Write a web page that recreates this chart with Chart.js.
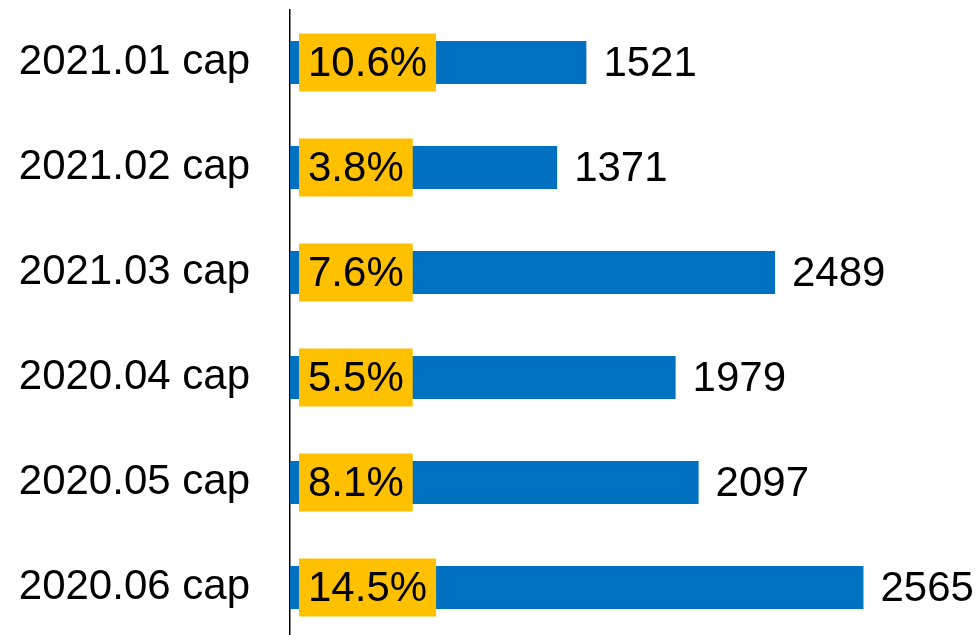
<!DOCTYPE html>
<html>
<head>
<meta charset="utf-8">
<script src="https://cdn.jsdelivr.net/npm/chart.js@4.4.1/dist/chart.umd.min.js"></script>
<style>
  html, body { margin: 0; padding: 0; background: #fff; overflow: hidden; }
  #wrap { width: 980px; height: 640px; }
</style>
</head>
<body>
<div id="wrap"><canvas id="chart"></canvas></div>
<script>
// ── Datos ─────────────────────────────────────────────
var categories = ['2021.01 cap', '2021.02 cap', '2021.03 cap', '2020.04 cap', '2020.05 cap', '2020.06 cap'];
var valueLabels = [1521, 1371, 2489, 1979, 2097, 2565];
var pctLabels = ['10.6%', '3.8%', '7.6%', '5.5%', '8.1%', '14.5%'];
// bar lengths as drawn in the picture (last bar is longer than its label says)
var barValues = [1521, 1371, 2489, 1979, 2097, 2943];

var BLUE = '#0070C0';
var GOLD = '#FFC000';
var FONT = "'Liberation Sans', Arial, sans-serif";

// labels: yellow box with % at the bar start, value after the bar end
var barLabels = {
    id: 'barLabels',
    afterDatasetsDraw: function (chart) {
        var ctx = chart.ctx;
        var meta = chart.getDatasetMeta(0);
        ctx.save();
        ctx.font = '42px ' + FONT;
        ctx.textBaseline = 'middle';
        meta.data.forEach(function (bar, i) {
            var pct = pctLabels[i];
            var w = ctx.measureText(pct).width;
            var bx = bar.base + 9;
            var bh = 58;
            ctx.fillStyle = GOLD;
            ctx.fillRect(bx, bar.y - bh / 2, w + 18, bh);
            ctx.fillStyle = '#000';
            ctx.textAlign = 'left';
            ctx.fillText(pct, bx + 9, bar.y + 2);
            ctx.fillText(String(valueLabels[i]), bar.x + 17, bar.y + 2);
        });
        ctx.restore();
    }
};

new Chart(document.getElementById('chart'), {
    type: 'bar',
    data: {
        labels: categories,
        datasets: [{
            data: barValues,
            backgroundColor: BLUE,
            borderWidth: 0,
            barPercentage: 0.41,
            categoryPercentage: 1
        }]
    },
    options: {
        indexAxis: 'y',
        responsive: true,
        maintainAspectRatio: false,
        animation: false,
        layout: { padding: { top: 10, right: 8, bottom: 0, left: 0 } },
        plugins: {
            legend: { display: false },
            tooltip: { enabled: false }
        },
        scales: {
            x: {
                display: false,
                min: 0,
                max: 3500
            },
            y: {
                afterFit: function (scale) {
                    scale.width = 290;
                    scale.paddingTop = 0;
                    scale.paddingBottom = 0;
                },
                grid: { display: false },
                border: { display: true, color: '#000', width: 1.5 },
                ticks: {
                    color: '#000',
                    padding: 32,
                    font: { family: FONT, size: 42 }
                }
            }
        }
    },
    plugins: [barLabels]
});
</script>
</body>
</html>
